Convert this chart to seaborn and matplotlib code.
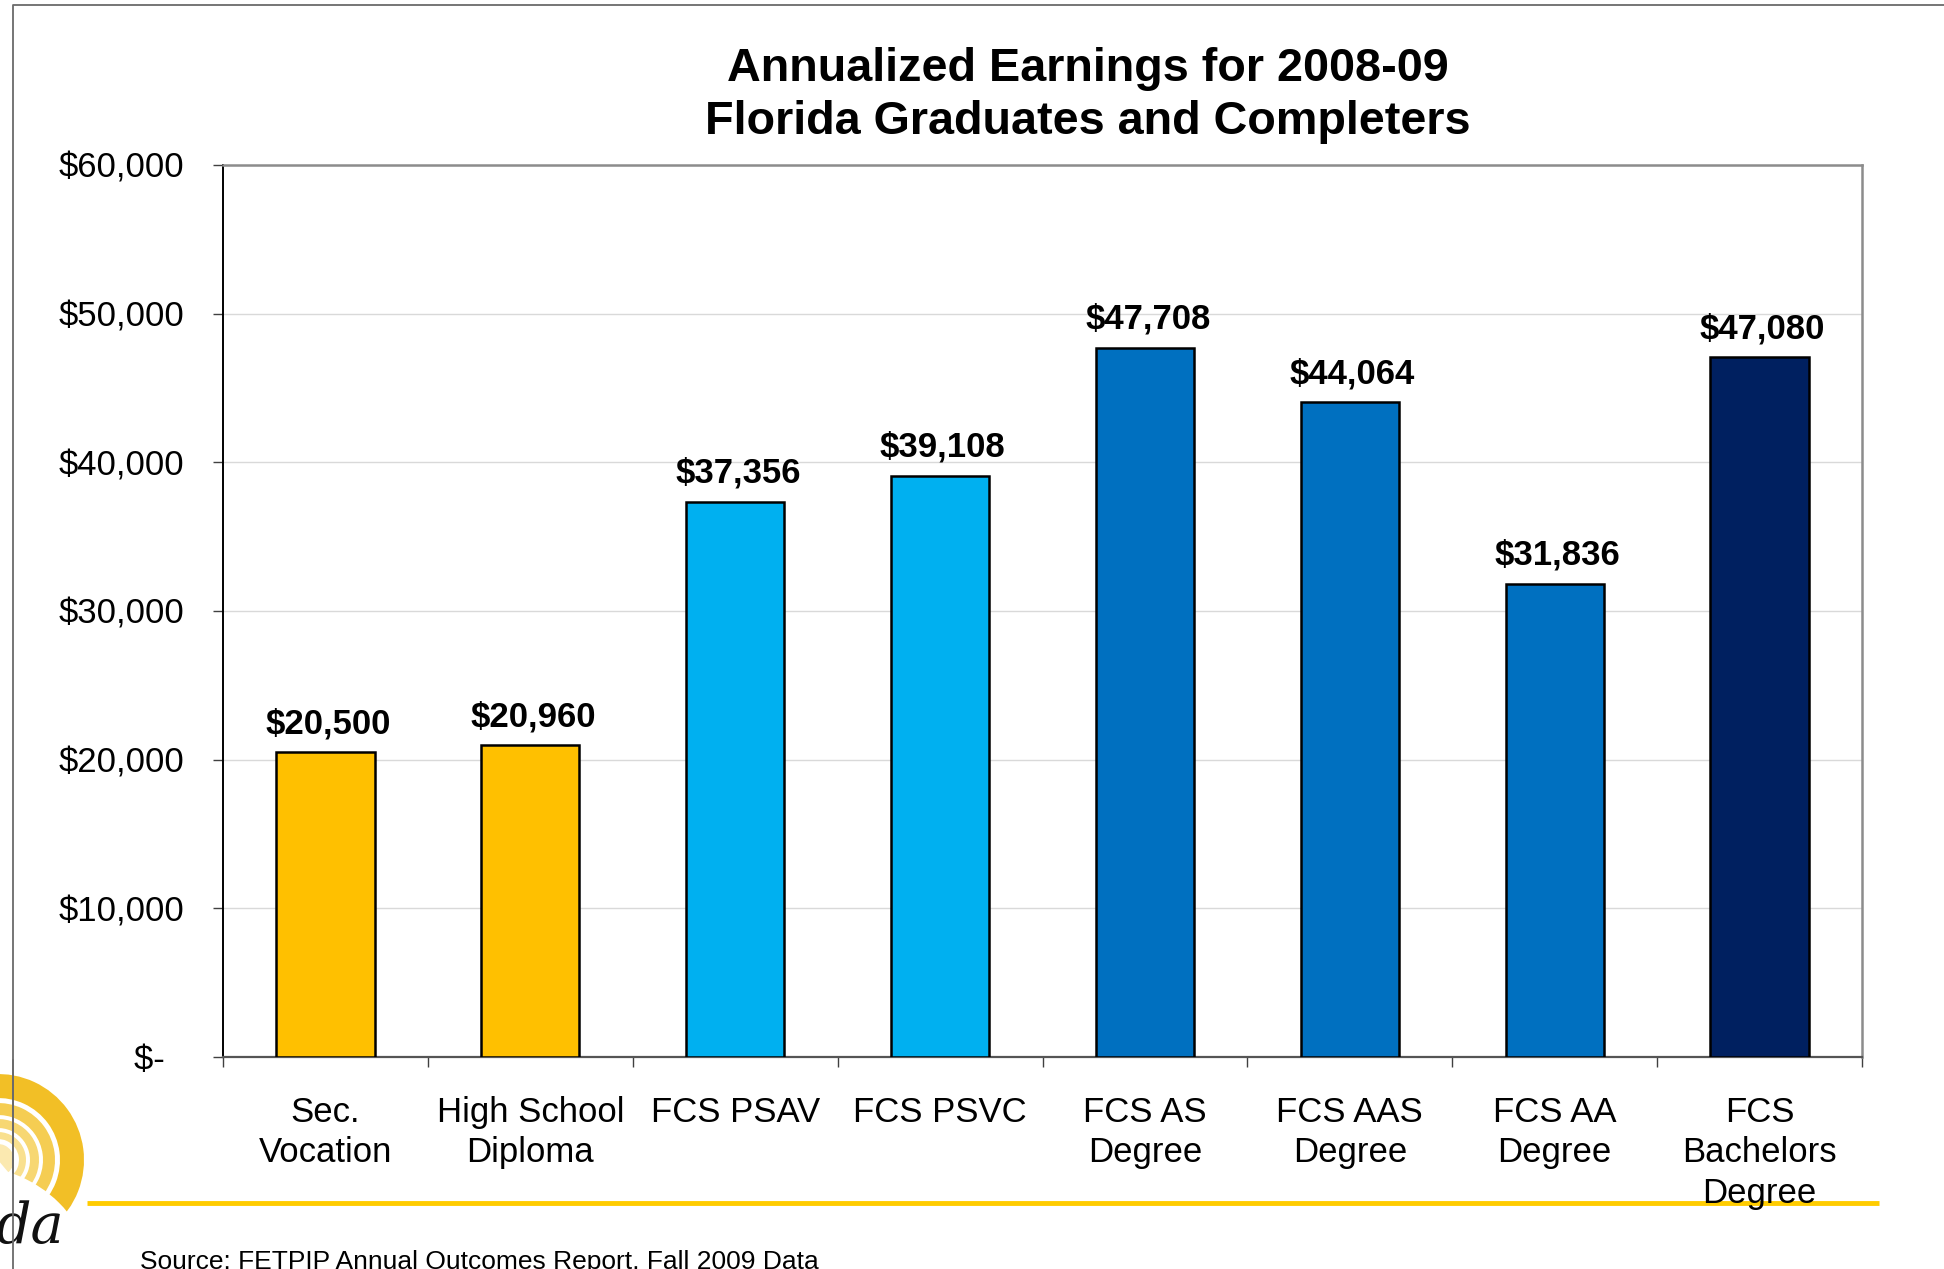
import matplotlib
matplotlib.use("Agg")
import matplotlib.pyplot as plt
import seaborn as sns
import pandas as pd
import numpy as np
from matplotlib.patches import Wedge, Circle

# ---- data ----
categories = ["Sec.\nVocation", "High School\nDiploma", "FCS PSAV", "FCS PSVC",
              "FCS AS\nDegree", "FCS AAS\nDegree", "FCS AA\nDegree",
              "FCS\nBachelors\nDegree"]
earnings = [20500, 20960, 37356, 39108, 47708, 44064, 31836, 47080]
value_labels = ["$20,500", "$20,960", "$37,356", "$39,108",
                "$47,708", "$44,064", "$31,836", "$47,080"]
bar_colors = ["#FFC000", "#FFC000", "#00B0F0", "#00B0F0",
              "#0070C0", "#0070C0", "#0070C0", "#002060"]
y_ticks = [0, 10000, 20000, 30000, 40000, 50000, 60000]
y_tick_labels = ["$-  ", "$10,000", "$20,000", "$30,000", "$40,000", "$50,000", "$60,000"]
title_lines = ["Annualized Earnings for 2008-09", "Florida Graduates and Completers"]
source = "Source: FETPIP Annual Outcomes Report, Fall 2009 Data"

sns.set_style("white")
plt.rcParams["font.family"] = ["Liberation Sans", "DejaVu Sans"]
plt.rcParams["text.color"] = "black"
plt.rcParams["xtick.color"] = "black"
plt.rcParams["ytick.color"] = "black"
plt.rcParams["xtick.labelcolor"] = "black"
plt.rcParams["ytick.labelcolor"] = "black"

W, H = 1944, 1269
fig = plt.figure(figsize=(W / 100, H / 100), dpi=100)
fig.patch.set_facecolor("white")

# background overlay in pixel coordinates
bg = fig.add_axes([0, 0, 1, 1], zorder=0)
bg.set_xlim(0, W)
bg.set_ylim(H, 0)
bg.axis("off")
# slide frame
bg.plot([13, 13, W + 10], [H + 10, 5, 5], color="#6a6a6a", lw=1.3, solid_capstyle="butt")
# yellow rule
bg.plot([87, 1879], [1203, 1203], color="#FFCC00", lw=3.5, solid_capstyle="butt")
# logo (sun) -- y axis inverted, so screen angle a is data angle -a
cx, cy = -2, 1160
rings = [(62, 86, "#F2BF26"), (45, 57, "#F5CD52"), (32, 41, "#F7D772"),
         (21, 28, "#F9E08F"), (0, 16, "#FBE9B0")]
for r0, r1, col in rings:
    bg.add_patch(Wedge((cx, cy), r1, -180, 50, width=r1 - r0, facecolor=col,
                       edgecolor="none", zorder=1))
bg.add_patch(Circle((-30, 1292), 126, facecolor="white", edgecolor="none", zorder=2))
bg.text(30, 1228, "da", fontsize=40, style="italic", family="DejaVu Serif",
        ha="center", va="center", color="#111111", zorder=3)
bg.plot([13, 13], [1060, H + 10], color="#6a6a6a", lw=1.3, zorder=4)

# main chart axes
left, right, top, bottom = 223, 1862, 165, 1057
ax = fig.add_axes([left / W, 1 - bottom / H, (right - left) / W, (bottom - top) / H], zorder=2)
ax.set_facecolor("white")

df = pd.DataFrame({"cat": categories, "val": earnings})
sns.barplot(data=df, x="cat", y="val", hue="cat", palette=bar_colors, legend=False,
            width=0.48, edgecolor="black", linewidth=1.8, saturation=1, ax=ax, zorder=3)

ax.set_xlim(-0.5, len(categories) - 0.5)
ax.set_ylim(0, 60000)
ax.set_yticks(y_ticks)
ax.set_yticklabels(y_tick_labels, fontsize=25)
ax.yaxis.grid(True, color="#D9D9D9", lw=1)
ax.set_axisbelow(True)
ax.set_xlabel("")
ax.set_ylabel("")

ax.set_xticks(range(len(categories)))
ax.set_xticklabels(categories, fontsize=25, linespacing=1.29)
ax.set_xticks(np.arange(-0.5, len(categories)), minor=True)
ax.tick_params(axis="x", which="major", length=0, pad=28)
ax.tick_params(axis="x", which="minor", length=7.2, width=1, color="#404040", direction="out", bottom=True)
ax.tick_params(axis="y", which="major", length=7.2, width=1, color="#404040", direction="out", left=True, pad=21)

for s in ["top", "right"]:
    ax.spines[s].set_color("#8c8c8c")
    ax.spines[s].set_linewidth(1.8)
ax.spines["left"].set_color("#000000")
ax.spines["left"].set_linewidth(1.4)
ax.spines["bottom"].set_color("#555555")
ax.spines["bottom"].set_linewidth(1.6)

for i, (v, lab) in enumerate(zip(earnings, value_labels)):
    ax.annotate(lab, (i, v), xytext=(2, 13.5), textcoords="offset points",
                ha="center", va="baseline", fontsize=25, fontweight="bold", color="black")

for yc, line in zip([69, 122], title_lines):
    fig.text(1088 / W, 1 - yc / H, line, ha="center", va="center",
             fontsize=33.7, fontweight="bold", color="black")
fig.text(140 / W, 1 - 1250 / H, source, ha="left", va="top", fontsize=19, color="black")

fig.savefig("out.png", dpi=100)
